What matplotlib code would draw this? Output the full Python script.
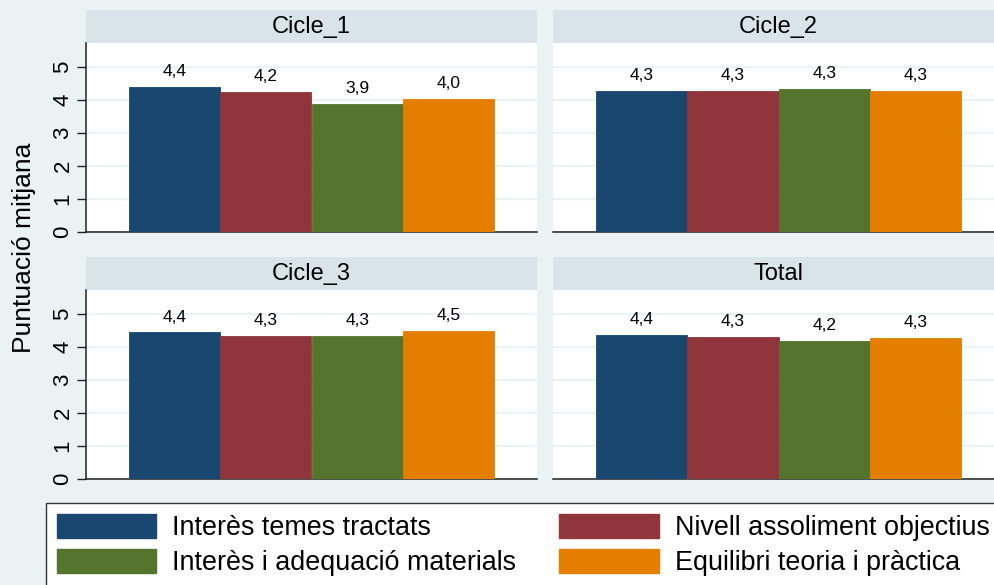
import matplotlib
matplotlib.use("Agg")
import matplotlib.pyplot as plt
from matplotlib.patches import Patch

plt.rcParams['font.family'] = ['Liberation Sans', 'DejaVu Sans']

# Data
panels = ['Cicle_1', 'Cicle_2', 'Cicle_3', 'Total']
series = ['Interès temes tractats', 'Nivell assoliment objectius',
          'Interès i adequació materials', 'Equilibri teoria i pràctica']
cicle_1 = [4.38, 4.24, 3.88, 4.02]
cicle_2 = [4.28, 4.28, 4.32, 4.28]
cicle_3 = [4.44, 4.34, 4.32, 4.49]
total = [4.37, 4.30, 4.19, 4.27]
yticks = [0, 1, 2, 3, 4, 5]

colors = ['#1A476F', '#90353B', '#55752F', '#E37E00']
bg = '#EAF2F3'
strip_col = '#D8E4E9'

W, H = 995, 585
fig = plt.figure(figsize=(W / 100, H / 100), dpi=100, facecolor=bg)


def fx(px):
    return px / W


def fy(py):
    return 1 - py / H


# panel boxes in pixels: (left, right, strip_top, plot_top, plot_bottom)
boxes = [(86, 537, 10, 43, 232), (553, 1004, 10, 43, 232),
         (86, 537, 257, 290, 479), (553, 1004, 257, 290, 479)]
values = [cicle_1, cicle_2, cicle_3, total]

for i, (name, vals, box) in enumerate(zip(panels, values, boxes)):
    l, r, st, pt, pb = box
    # title strip
    sax = fig.add_axes([fx(l), fy(pt), fx(r - l), (pt - st) / H])
    sax.set_facecolor(strip_col)
    sax.set_xticks([])
    sax.set_yticks([])
    for s in sax.spines.values():
        s.set_visible(False)
    sax.text(0.5, 0.48, name, ha='center', va='center', fontsize=17,
             transform=sax.transAxes)

    ax = fig.add_axes([fx(l), fy(pb), fx(r - l), (pb - pt) / H])
    ax.set_facecolor('white')
    x = list(range(len(vals)))
    bars = ax.bar(x, vals, width=1.0, color=colors, edgecolor=colors,
                  linewidth=0.6, zorder=3)
    for b, v in zip(bars, vals):
        ax.annotate(f"{v:.1f}".replace('.', ','),
                    (b.get_x() + b.get_width() / 2, v),
                    xytext=(0, 11), textcoords='offset points',
                    ha='center', va='center', fontsize=12.5)
    ax.set_xlim(-0.969, 3.969)
    ax.set_ylim(0, 5.72)
    ax.set_xticks([])
    ax.set_yticks(yticks)
    ax.yaxis.grid(True, color=bg, linewidth=1.6, zorder=0)
    ax.set_axisbelow(True)
    for s in ['top', 'right']:
        ax.spines[s].set_visible(False)
    ax.spines['bottom'].set_color('#222222')
    ax.spines['bottom'].set_linewidth(1.1)
    if i % 2 == 0:
        ax.spines['left'].set_color('#222222')
        ax.spines['left'].set_linewidth(1.1)
        ax.tick_params(axis='y', length=6.5, width=1, color='#222222',
                       pad=2.5, labelsize=16)
        for t in ax.get_yticklabels():
            t.set_rotation(90)
            t.set_va('center')
    else:
        ax.spines['left'].set_visible(False)
        ax.tick_params(axis='y', length=0, labelleft=False)

fig.text(fx(24), fy(248), 'Puntuació mitjana', rotation=90,
         ha='center', va='center', fontsize=19)

# legend is filled column by column, so pass entries in column order
order = [0, 2, 1, 3]
handles = [Patch(facecolor=colors[k], edgecolor=colors[k]) for k in order]
labels = [series[k] for k in order]
leg = fig.legend(handles, labels, ncol=2, loc='upper left',
                 bbox_to_anchor=(fx(46), fy(503)), borderaxespad=0,
                 fontsize=19.4, frameon=True, fancybox=False,
                 handlelength=3.7, handleheight=1.0, handletextpad=0.59,
                 columnspacing=1.6, labelspacing=0.3, borderpad=0.4)
leg.get_frame().set_edgecolor('#333333')
leg.get_frame().set_linewidth(1.0)
leg.get_frame().set_facecolor('white')
leg.get_frame().set_alpha(1)

fig.savefig('out.png', dpi=100, facecolor=bg)
